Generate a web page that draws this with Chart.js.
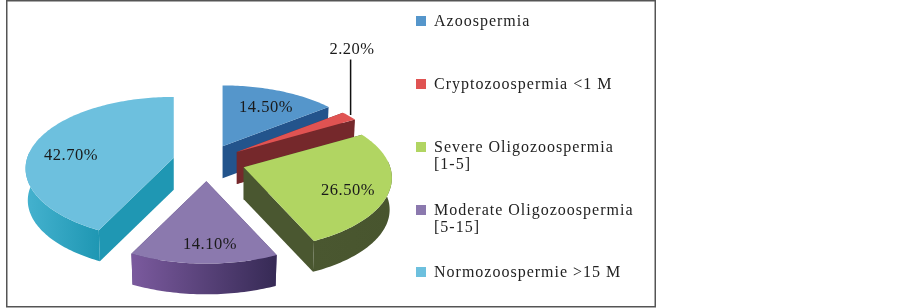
<!DOCTYPE html>
<html>
<head>
<meta charset="utf-8">
<style>
html,body{margin:0;padding:0;background:#fff}
canvas{display:block;filter:blur(0.35px)}
</style>
<script src="https://cdn.jsdelivr.net/npm/chart.js@4"></script>
</head>
<body>
<canvas id="c" width="902" height="308"></canvas>
<script>
const categories = ["Azoospermia","Cryptozoospermia <1 M","Severe Oligozoospermia [1-5]","Moderate Oligozoospermia [5-15]","Normozoospermie >15 M"];
const legendLines = [["Azoospermia"],["Cryptozoospermia <1 M"],["Severe Oligozoospermia","[1-5]"],["Moderate Oligozoospermia","[5-15]"],["Normozoospermie >15 M"]];
const values = [14.5,2.2,26.5,14.1,42.7];
const topColors = ["#5596CB","#E05352","#B1D562","#8B79AE","#6DC0DE"];
const cutColors = ["#23548C","#75282B","#4A5730","#4F3A74","#1F97B3"];
const wallFrom = ["#2A5F9A","#8A3030","#4A5730","#7B5A9E","#45B2CF"];
const wallTo = ["#23548C","#75282B","#48552E","#362A55","#1F97B3"];

const DEPTH=32, SQUASH=0.478, PERSP=0.15;
const EXPLODE=[0.25,0.25,0.26,0.27,0.235];
const LABEL_POS=[[266,112],[352,54],[348,195],[210,249],[71,160]];
const LEGEND_Y=[21,84,147,210,272];

const pie3d={
  id:'pie3d',
  beforeDatasetDraw(chart){
    const ctx=chart.ctx, arcs=chart.getDatasetMeta(0).data;
    const toPt=(arc,X,Y)=>{const R=arc.outerRadius,w=1+PERSP*Y;return [R*X/w,-R*SQUASH*Y/w];};
    const polar=(arc,t)=>toPt(arc,Math.sin(t),Math.cos(t));
    arcs.forEach((arc,i)=>{
      const t0=arc.startAngle+Math.PI/2,t1=arc.endAngle+Math.PI/2,m=(t0+t1)/2;
      const off=toPt(arc,EXPLODE[i]*Math.sin(m),EXPLODE[i]*Math.cos(m));
      const ax=arc.x+off[0],ay=arc.y+off[1];
      const rim=[];const n=Math.max(4,Math.round((t1-t0)/0.02));
      for(let k=0;k<=n;k++){const t=t0+(t1-t0)*k/n;const p=polar(arc,t);rim.push({x:ax+p[0],y:ay+p[1],c:Math.cos(t)});}
      const low=p=>({x:ax+(p.x-ax)*0.985,y:ay+(p.y-ay)*0.985+DEPTH});
      const A={x:ax,y:ay};
      const faces=[];
      const a=rim[0],b=rim[rim.length-1];
      faces.push({pts:[A,a,low(a),low(A)],fill:cutColors[i]});
      faces.push({pts:[A,b,low(b),low(A)],fill:cutColors[i]});
      const front=rim.filter(p=>p.c<0.1);
      if(front.length>1){
        const g=ctx.createLinearGradient(Math.min(...front.map(p=>p.x)),0,Math.max(...front.map(p=>p.x)),0);
        g.addColorStop(0,wallFrom[i]);g.addColorStop(1,wallTo[i]);
        faces.push({pts:front.concat(front.slice().reverse().map(low)),fill:g});
      }
      faces.forEach(f=>f.my=f.pts.reduce((s,p)=>s+p.y,0)/f.pts.length);
      faces.sort((u,v)=>u.my-v.my);
      faces.forEach(f=>{
        ctx.beginPath();f.pts.forEach((p,j)=>j?ctx.lineTo(p.x,p.y):ctx.moveTo(p.x,p.y));ctx.closePath();
        ctx.fillStyle=f.fill;ctx.fill();
      });
      ctx.beginPath();ctx.moveTo(ax,ay);rim.forEach(p=>ctx.lineTo(p.x,p.y));ctx.closePath();
      ctx.fillStyle=topColors[i];ctx.fill();
    });
    return false;
  },
  afterDraw(chart){
    const ctx=chart.ctx, arcs=chart.getDatasetMeta(0).data;
    ctx.save();
    // frame
    ctx.strokeStyle='#555';ctx.lineWidth=1.5;ctx.strokeRect(6.75,0.75,648.5,306);
    // leader line for the small slice
    const arc=arcs[1],m=(arc.startAngle+arc.endAngle)/2+Math.PI/2;
    const R=arc.outerRadius,wOff=1+PERSP*EXPLODE[1]*Math.cos(m),w=1+PERSP*Math.cos(m);
    const lx=arc.x+R*EXPLODE[1]*Math.sin(m)/wOff+R*Math.sin(m)/w+1.5;
    ctx.strokeStyle='#111';ctx.lineWidth=1.5;ctx.beginPath();ctx.moveTo(lx,59.5);ctx.lineTo(lx,115);ctx.stroke();
    // value labels
    ctx.fillStyle='#1a1a1a';ctx.font='16.5px "Liberation Serif"';ctx.letterSpacing='0.5px';ctx.textAlign='center';ctx.textBaseline='alphabetic';
    values.forEach((v,i)=>ctx.fillText(v.toFixed(2)+'%',LABEL_POS[i][0],LABEL_POS[i][1]));
    // legend
    ctx.textAlign='left';ctx.font='16px "Liberation Serif"';ctx.letterSpacing='1px';
    legendLines.forEach((lines,i)=>{
      const y=LEGEND_Y[i];
      ctx.fillStyle=topColors[i];ctx.fillRect(416,y-5,10,10);
      ctx.fillStyle='#222';
      lines.forEach((t,j)=>ctx.fillText(t,434,y+5+j*17));
    });
    ctx.restore();
  }
};

new Chart(document.getElementById('c'),{
  type:'pie',
  data:{labels:categories,datasets:[{data:values,backgroundColor:topColors,borderWidth:0}]},
  options:{
    responsive:false,animation:false,
    layout:{padding:{left:60,top:15,right:548,bottom:0}},
    plugins:{legend:{display:false},tooltip:{enabled:false}}
  },
  plugins:[pie3d]
});
</script>
</body>
</html>
